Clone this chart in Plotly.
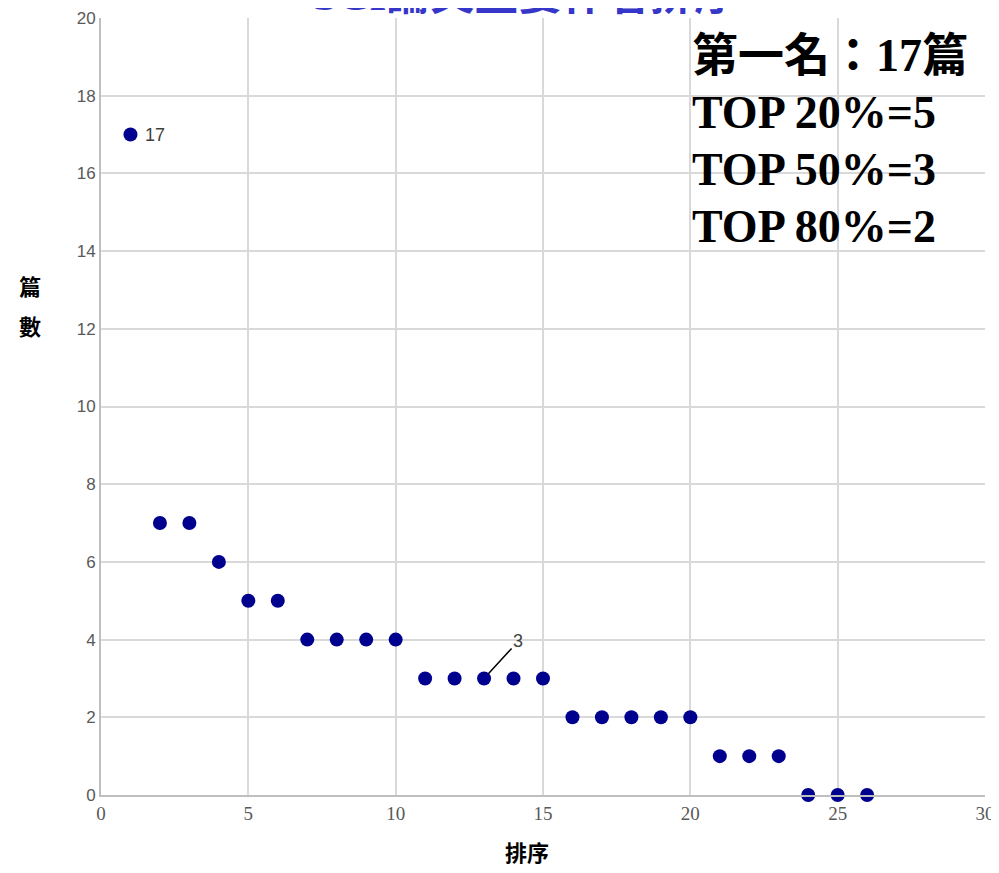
import plotly.graph_objects as go

ranks = list(range(1, 27))
counts = [17, 7, 7, 6, 5, 5, 4, 4, 4, 4, 3, 3, 3, 3, 3, 2, 2, 2, 2, 2, 1, 1, 1, 0, 0, 0]
x_ticks = [0, 5, 10, 15, 20, 25, 30]
y_ticks = [0, 2, 4, 6, 8, 10, 12, 14, 16, 18, 20]
title_text = "SCI論文主要作者排序"
info_lines = ["第一名：17篇", "TOP 20%=5", "TOP 50%=3", "TOP 80%=2"]
labeled = {1: "17", 13: "3"}

OFF = 8  # page body margin
W, H = 999 - OFF, 873 - 2 * OFF
ml, mr, mt = 101 - OFF, 14, 18 - OFF
mb = H + OFF - 795
PW, PH = W - ml - mr, H - mt - mb


def px_x(p):
    return (p - OFF - ml) / PW


def px_y(p):
    return 1 - (p - OFF - mt) / PH


fig = go.Figure()
fig.add_trace(go.Scatter(
    x=ranks, y=counts, mode="markers",
    marker=dict(size=14, color="#00008f"),
    cliponaxis=False, showlegend=False, hoverinfo="x+y"))

serif = "Liberation Serif, Times New Roman, Noto Sans CJK TC, serif"
ann = []
# title (partly clipped at top)
ann.append(dict(text=f"<b>{title_text}</b>", xref="paper", yref="paper",
                x=px_x(525), y=px_y(-4), xanchor="center", yanchor="middle",
                showarrow=False, font=dict(family=serif, size=44, color="#3636c8")))
# info text
for i, line in enumerate(info_lines):
    ann.append(dict(text=f"<b>{line}</b>", xref="paper", yref="paper",
                    x=px_x(690), y=px_y(55 + 57 * i),
                    xanchor="left", yanchor="middle", showarrow=False,
                    font=dict(family=serif, size=46, color="#000000")))
# data labels
ann.append(dict(text=labeled[1], x=ranks[0], y=counts[0], xref="x", yref="y",
                showarrow=False, xanchor="left", yanchor="middle", xshift=13,
                font=dict(family="Liberation Sans, Arial", size=18, color="#404040")))
ann.append(dict(text=labeled[13], x=ranks[12], y=counts[12], xref="x", yref="y",
                showarrow=True, arrowhead=0, arrowwidth=1.5, arrowcolor="#000000",
                ax=34, ay=-37, standoff=6,
                font=dict(family="Liberation Sans, Arial", size=18, color="#404040")))
# axis titles
ann.append(dict(text="<b>排序</b>", xref="paper", yref="paper",
                x=px_x(527), y=px_y(851), xanchor="center", yanchor="middle",
                showarrow=False, font=dict(family="Noto Sans CJK TC", size=22, color="#000")))
for i, ch in enumerate(["篇", "數"]):
    ann.append(dict(text=f"<b>{ch}</b>", xref="paper", yref="paper",
                    x=px_x(30), y=px_y(285 + 40 * i), xanchor="center", yanchor="middle",
                    showarrow=False, font=dict(family="Noto Sans CJK TC", size=22, color="#000")))

fig.update_layout(
    width=W, height=H, margin=dict(l=ml, r=mr, t=mt, b=mb, autoexpand=False),
    paper_bgcolor="white", plot_bgcolor="white",
    annotations=ann,
    xaxis=dict(range=[0, 30], tickvals=x_ticks, showgrid=True, gridcolor="#d9d9d9",
               gridwidth=1.5, zeroline=False, showline=True, linecolor="#bfbfbf", linewidth=2,
               automargin=False, ticklabeloverflow="allow",
               tickfont=dict(family=serif, size=19, color="#595959"), ticks="", ticklen=0),
    yaxis=dict(range=[0, 20], tickvals=y_ticks, showgrid=True, gridcolor="#d9d9d9",
               gridwidth=1.5, zeroline=False, showline=True, linecolor="#bfbfbf", linewidth=2,
               automargin=False, ticklabeloverflow="allow",
               tickfont=dict(family="Liberation Sans, Arial", size=17, color="#595959"), ticks=""),
)
fig.write_html("out.html")
